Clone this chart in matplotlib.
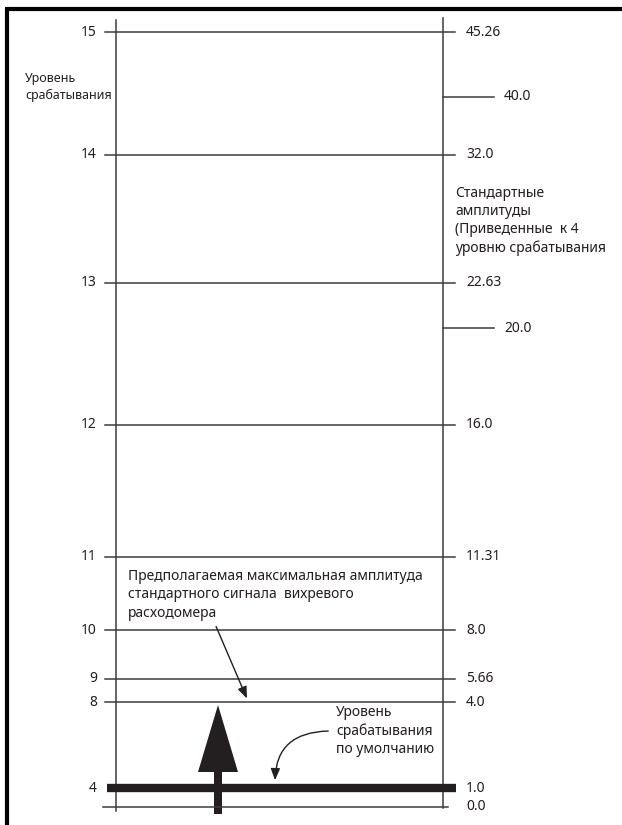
import matplotlib
matplotlib.use("Agg")
import matplotlib.pyplot as plt

plt.rcParams['font.family'] = ['Noto Sans', 'DejaVu Sans']

# --- data ---
levels = ["15", "14", "13", "12", "11", "10", "9", "8", "4"]
amplitudes = ["45.26", "32.0", "22.63", "16.0", "11.31", "8.0", "5.66", "4.0", "1.0"]
extra_amplitudes = ["40.0", "20.0"]
zero_label = "0.0"

# vertical position (pixels from top) of each row on the diagram
row_y = [32, 155, 283, 425, 557, 630, 679, 702, 788]
extra_y = [97, 328]
zero_y = 807

ink = '#231f20'
thin = '#3c3c3c'

fig = plt.figure(figsize=(6.22, 8.25), dpi=100)
ax = fig.add_axes([0, 0, 1, 1])
ax.set_xlim(0, 622)
ax.set_ylim(825, 0)
ax.axis('off')

# page border (top + left)
ax.plot([5, 622], [9, 9], color='black', lw=3, solid_capstyle='butt')
ax.plot([7, 7], [9, 825], color='black', lw=3, solid_capstyle='butt')

# two vertical scales
ax.plot([116, 116], [20, 811], color=thin, lw=1.1)
ax.plot([443, 443], [18, 808], color=thin, lw=1.1)

# level rows
for lev, amp, y in zip(levels, amplitudes, row_y):
    if lev == "4":
        ax.plot([107, 456], [y, y], color=ink, lw=6, solid_capstyle='butt')
    else:
        ax.plot([105, 455], [y, y], color=thin, lw=1.1)
    ax.text(97, y, lev, ha='right', va='center', fontsize=10, color=ink)
    ax.text(466, y, amp, ha='left', va='center', fontsize=10, color=ink)

# extra amplitude ticks on the right
for amp, y in zip(extra_amplitudes, extra_y):
    ax.plot([443, 494], [y, y], color=thin, lw=1.1)
    ax.text(504, y, amp, ha='left', va='center', fontsize=10, color=ink)

# zero line
ax.plot([103, 448], [zero_y, zero_y], color=thin, lw=1.1)
ax.text(466, zero_y, zero_label, ha='left', va='center', fontsize=10, color=ink)

# captions
ax.text(25, 87, "Уровень\nсрабатывания", ha='left', va='center',
        fontsize=9, color=ink, linespacing=1.45)
ax.text(455, 221, "Стандартные\nамплитуды\n(Приведенные  к 4\nуровню срабатывания",
        ha='left', va='center', fontsize=10, color=ink, linespacing=1.3)
ax.text(128, 595, "Предполагаемая максимальная амплитуда\nстандартного сигнала  вихревого\nрасходомера",
        ha='left', va='center', fontsize=10, color=ink, linespacing=1.3)
ax.text(336, 731, "Уровень\nсрабатывания\nпо умолчанию", ha='left', va='center',
        fontsize=10, color=ink, linespacing=1.3)

# pointer arrows
ax.annotate("", xy=(248, 701), xytext=(215, 624),
            arrowprops=dict(arrowstyle='-|>,head_length=0.7,head_width=0.28',
                            color=ink, lw=1))
ax.annotate("", xy=(275, 783), xytext=(331, 731),
            arrowprops=dict(arrowstyle='-|>,head_length=0.7,head_width=0.28',
                            color=ink, lw=1,
                            connectionstyle="angle3,angleA=180,angleB=90"))

# big upward arrow
ax.arrow(218, 814, 0, -109, width=8, head_width=40, head_length=67,
         length_includes_head=True, color=ink, lw=0)

fig.savefig("out.png", dpi=100)
